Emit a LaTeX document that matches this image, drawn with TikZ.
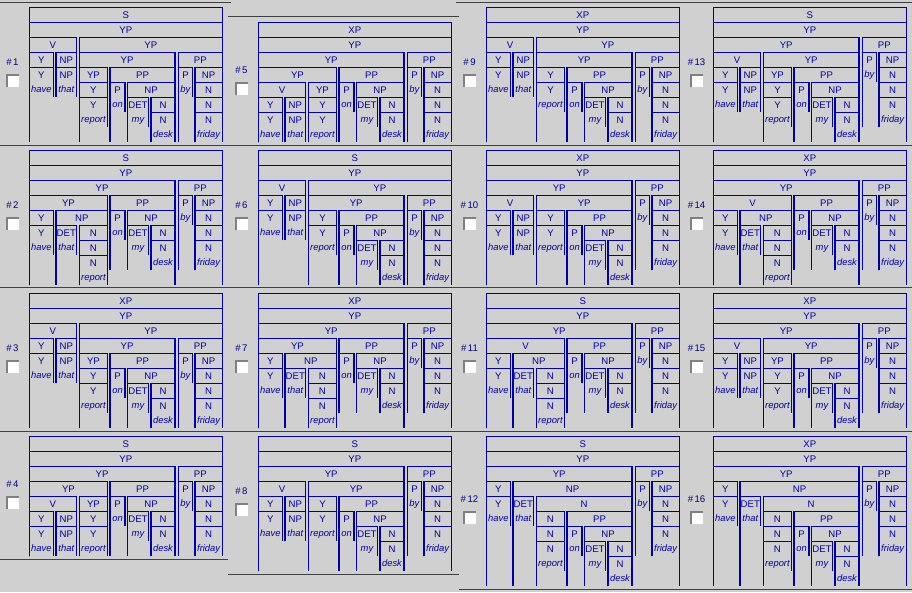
\documentclass[tikz,border=0pt]{standalone}
\usepackage{fontspec}
\setmainfont{Liberation Sans}
\definecolor{bg}{RGB}{208,208,208}
\definecolor{tb}{RGB}{0,0,165}
\definecolor{numc}{RGB}{0,0,128}
\definecolor{sep}{RGB}{64,64,64}
\definecolor{cbd}{RGB}{128,128,128}
\tikzset{
 treeline/.style={draw=tb, line width=1.1pt},
 cat/.style={text=tb, font=\fontsize{9.6}{9.6}\selectfont, inner sep=0pt, anchor=base},
 word/.style={text=tb, font=\fontsize{9.4}{9.4}\selectfont\itshape, inner sep=0pt, anchor=base},
 numlabel/.style={text=numc, font=\fontsize{9.6}{9.6}\selectfont, inner sep=0pt, anchor=base},
 seprule/.style={draw=sep, line width=1pt},
}
\newcounter{nc}
\newcommand\leafL[1]{\ifcase#1\or0\or26.7\or50\or80.7\or98\or121.7\or149\or165.7\fi}
\newcommand\leafR[1]{\ifcase#1\or24\or47.3\or78.3\or95.7\or119.3\or145.7\or163.3\or193\fi}
% box: first leaf, last leaf, row, bottom row, label
\newcommand\TB[5]{%
  \edef\tmpa{\leafL{#1}}\edef\tmpb{\leafR{#2}}%
  \pgfmathsetmacro\xa{\PX+\tmpa}\pgfmathsetmacro\xb{\PX+\tmpb}%
  \pgfmathsetmacro\ya{\PY+15*#3}\pgfmathsetmacro\yb{\PY+15*(#4+1)}%
  \pgfmathsetmacro\xm{(\xa+\xb)/2}\pgfmathsetmacro\yt{\ya+10.7}%
  \draw[treeline] (\xa,\yb) -- (\xa,\ya) -- (\xb,\ya) -- (\xb,\yb);
  \stepcounter{nc}\node[cat] (n\arabic{nc}) at (\xm,\yt) {#5};
}
% word: leaf, row, text
\newcommand\TW[3]{%
  \edef\tmpa{\leafL{#1}}\edef\tmpb{\leafR{#1}}%
  \pgfmathsetmacro\xm{\PX+(\tmpa+\tmpb)/2}\pgfmathsetmacro\yt{\PY+15*#2+10.4}%
  \stepcounter{nc}\node[word] (n\arabic{nc}) at (\xm,\yt) {#3};
}
\newcommand\panel[6]{%
  \pgfmathsetmacro\PX{#1+29.3}\edef\PY{#2}%
  \pgfmathsetmacro\pmid{#2+#3*7.5}%
  \pgfmathsetmacro\lx{#1+12.5}\pgfmathsetmacro\ly{\pmid-12.5+3.4}%
  \node[numlabel] (lab#4) at (\lx,\ly) {\#\kern1.5pt#4};
  \pgfmathsetmacro\cxa{#1+6}\pgfmathsetmacro\cya{\pmid-0.5}%
  \fill[white] (\cxa,\cya) rectangle ++(13,13);
  \draw[cbd, line width=1.8pt] (\cxa+0.9,\cya+13) -- (\cxa+0.9,\cya+0.9) -- (\cxa+13,\cya+0.9);
  \pgfmathsetmacro\rb{#3-1}%
  \TB{1}{8}{0}{\rb}{#5}%
  #6%
}
\newcommand\shA{%
 \TB{1}{8}{1}{8}{YP}
 \TB{1}{2}{2}{5}{V}\TB{3}{8}{2}{8}{YP}
 \TB{1}{1}{3}{5}{Y}\TB{2}{2}{3}{5}{NP}\TB{3}{6}{3}{8}{YP}\TB{7}{8}{3}{8}{PP}
 \TB{1}{1}{4}{5}{Y}\TB{2}{2}{4}{5}{NP}\TB{3}{3}{4}{7}{YP}\TB{4}{6}{4}{8}{PP}\TB{7}{7}{4}{5}{P}\TB{8}{8}{4}{8}{NP}
 \TW{1}{5}{have}\TW{2}{5}{that}\TB{3}{3}{5}{7}{Y}\TB{4}{4}{5}{6}{P}\TB{5}{6}{5}{8}{NP}\TW{7}{5}{by}\TB{8}{8}{5}{8}{N}
 \TB{3}{3}{6}{7}{Y}\TW{4}{6}{on}\TB{5}{5}{6}{7}{DET}\TB{6}{6}{6}{8}{N}\TB{8}{8}{6}{8}{N}
 \TW{3}{7}{report}\TW{5}{7}{my}\TB{6}{6}{7}{8}{N}\TB{8}{8}{7}{8}{N}
 \TW{6}{8}{desk}\TW{8}{8}{friday}}
\newcommand\shB{%
 \TB{1}{8}{1}{7}{YP}
 \TB{1}{6}{2}{7}{YP}\TB{7}{8}{2}{7}{PP}
 \TB{1}{3}{3}{7}{YP}\TB{4}{6}{3}{7}{PP}\TB{7}{7}{3}{4}{P}\TB{8}{8}{3}{7}{NP}
 \TB{1}{2}{4}{7}{V}\TB{3}{3}{4}{7}{YP}\TB{4}{4}{4}{5}{P}\TB{5}{6}{4}{7}{NP}\TW{7}{4}{by}\TB{8}{8}{4}{7}{N}
 \TB{1}{1}{5}{7}{Y}\TB{2}{2}{5}{7}{NP}\TB{3}{3}{5}{7}{Y}\TW{4}{5}{on}\TB{5}{5}{5}{6}{DET}\TB{6}{6}{5}{7}{N}\TB{8}{8}{5}{7}{N}
 \TB{1}{1}{6}{7}{Y}\TB{2}{2}{6}{7}{NP}\TB{3}{3}{6}{7}{Y}\TW{5}{6}{my}\TB{6}{6}{6}{7}{N}\TB{8}{8}{6}{7}{N}
 \TW{1}{7}{have}\TW{2}{7}{that}\TW{3}{7}{report}\TW{6}{7}{desk}\TW{8}{7}{friday}}
\newcommand\shC{%
 \TB{1}{8}{1}{8}{YP}
 \TB{1}{2}{2}{5}{V}\TB{3}{8}{2}{8}{YP}
 \TB{1}{1}{3}{5}{Y}\TB{2}{2}{3}{5}{NP}\TB{3}{6}{3}{8}{YP}\TB{7}{8}{3}{8}{PP}
 \TB{1}{1}{4}{5}{Y}\TB{2}{2}{4}{5}{NP}\TB{3}{3}{4}{6}{Y}\TB{4}{6}{4}{8}{PP}\TB{7}{7}{4}{5}{P}\TB{8}{8}{4}{8}{NP}
 \TW{1}{5}{have}\TW{2}{5}{that}\TB{3}{3}{5}{6}{Y}\TB{4}{4}{5}{6}{P}\TB{5}{6}{5}{8}{NP}\TW{7}{5}{by}\TB{8}{8}{5}{8}{N}
 \TW{3}{6}{report}\TW{4}{6}{on}\TB{5}{5}{6}{7}{DET}\TB{6}{6}{6}{8}{N}\TB{8}{8}{6}{8}{N}
 \TW{5}{7}{my}\TB{6}{6}{7}{8}{N}\TB{8}{8}{7}{8}{N}
 \TW{6}{8}{desk}\TW{8}{8}{friday}}
\newcommand\shD{%
 \TB{1}{8}{1}{8}{YP}
 \TB{1}{6}{2}{8}{YP}\TB{7}{8}{2}{7}{PP}
 \TB{1}{2}{3}{6}{V}\TB{3}{6}{3}{8}{YP}\TB{7}{7}{3}{4}{P}\TB{8}{8}{3}{7}{NP}
 \TB{1}{1}{4}{6}{Y}\TB{2}{2}{4}{6}{NP}\TB{3}{3}{4}{7}{YP}\TB{4}{6}{4}{8}{PP}\TW{7}{4}{by}\TB{8}{8}{4}{7}{N}
 \TB{1}{1}{5}{6}{Y}\TB{2}{2}{5}{6}{NP}\TB{3}{3}{5}{7}{Y}\TB{4}{4}{5}{6}{P}\TB{5}{6}{5}{8}{NP}\TB{8}{8}{5}{7}{N}
 \TW{1}{6}{have}\TW{2}{6}{that}\TB{3}{3}{6}{7}{Y}\TW{4}{6}{on}\TB{5}{5}{6}{7}{DET}\TB{6}{6}{6}{8}{N}\TB{8}{8}{6}{7}{N}
 \TW{3}{7}{report}\TW{5}{7}{my}\TB{6}{6}{7}{8}{N}\TW{8}{7}{friday}
 \TW{6}{8}{desk}}
\newcommand\lowerEG{%
 \TB{1}{1}{4}{6}{Y}\TB{2}{3}{4}{8}{NP}\TB{4}{4}{4}{5}{P}\TB{5}{6}{4}{7}{NP}\TW{7}{4}{by}\TB{8}{8}{4}{7}{N}
 \TB{1}{1}{5}{6}{Y}\TB{2}{2}{5}{6}{DET}\TB{3}{3}{5}{8}{N}\TW{4}{5}{on}\TB{5}{5}{5}{6}{DET}\TB{6}{6}{5}{7}{N}\TB{8}{8}{5}{7}{N}
 \TW{1}{6}{have}\TW{2}{6}{that}\TB{3}{3}{6}{8}{N}\TW{5}{6}{my}\TB{6}{6}{6}{7}{N}\TB{8}{8}{6}{7}{N}
 \TB{3}{3}{7}{8}{N}\TW{6}{7}{desk}\TW{8}{7}{friday}
 \TW{3}{8}{report}}
\newcommand\shE{%
 \TB{1}{8}{1}{8}{YP}
 \TB{1}{6}{2}{8}{YP}\TB{7}{8}{2}{7}{PP}
 \TB{1}{3}{3}{8}{YP}\TB{4}{6}{3}{7}{PP}\TB{7}{7}{3}{4}{P}\TB{8}{8}{3}{7}{NP}
 \lowerEG}
\newcommand\shG{%
 \TB{1}{8}{1}{8}{YP}
 \TB{1}{6}{2}{8}{YP}\TB{7}{8}{2}{7}{PP}
 \TB{1}{3}{3}{8}{V}\TB{4}{6}{3}{7}{PP}\TB{7}{7}{3}{4}{P}\TB{8}{8}{3}{7}{NP}
 \lowerEG}
\newcommand\shF{%
 \TB{1}{8}{1}{8}{YP}
 \TB{1}{6}{2}{8}{YP}\TB{7}{8}{2}{7}{PP}
 \TB{1}{2}{3}{6}{V}\TB{3}{6}{3}{8}{YP}\TB{7}{7}{3}{4}{P}\TB{8}{8}{3}{7}{NP}
 \TB{1}{1}{4}{6}{Y}\TB{2}{2}{4}{6}{NP}\TB{3}{3}{4}{6}{Y}\TB{4}{6}{4}{8}{PP}\TW{7}{4}{by}\TB{8}{8}{4}{7}{N}
 \TB{1}{1}{5}{6}{Y}\TB{2}{2}{5}{6}{NP}\TB{3}{3}{5}{6}{Y}\TB{4}{4}{5}{6}{P}\TB{5}{6}{5}{8}{NP}\TB{8}{8}{5}{7}{N}
 \TW{1}{6}{have}\TW{2}{6}{that}\TW{3}{6}{report}\TW{4}{6}{on}\TB{5}{5}{6}{7}{DET}\TB{6}{6}{6}{8}{N}\TB{8}{8}{6}{7}{N}
 \TW{5}{7}{my}\TB{6}{6}{7}{8}{N}\TW{8}{7}{friday}
 \TW{6}{8}{desk}}
\newcommand\shH{%
 \TB{1}{8}{1}{9}{YP}
 \TB{1}{6}{2}{9}{YP}\TB{7}{8}{2}{7}{PP}
 \TB{1}{1}{3}{5}{Y}\TB{2}{6}{3}{9}{NP}\TB{7}{7}{3}{4}{P}\TB{8}{8}{3}{7}{NP}
 \TB{1}{1}{4}{5}{Y}\TB{2}{2}{4}{5}{DET}\TB{3}{6}{4}{9}{N}\TW{7}{4}{by}\TB{8}{8}{4}{7}{N}
 \TW{1}{5}{have}\TW{2}{5}{that}\TB{3}{3}{5}{8}{N}\TB{4}{6}{5}{9}{PP}\TB{8}{8}{5}{7}{N}
 \TB{3}{3}{6}{8}{N}\TB{4}{4}{6}{7}{P}\TB{5}{6}{6}{9}{NP}\TB{8}{8}{6}{7}{N}
 \TB{3}{3}{7}{8}{N}\TW{4}{7}{on}\TB{5}{5}{7}{8}{DET}\TB{6}{6}{7}{9}{N}\TW{8}{7}{friday}
 \TW{3}{8}{report}\TW{5}{8}{my}\TB{6}{6}{8}{9}{N}
 \TW{6}{9}{desk}}
\begin{document}
\begin{tikzpicture}[x=1pt,y=-1pt]
\fill[bg] (0,0) rectangle (912,592);
\useasboundingbox (0,0) rectangle (912,592);
% separators
\draw[seprule] (0,2.2) -- (231,2.2);
\draw[seprule] (228,16.7) -- (459,16.7);
\draw[seprule] (456,2.2) -- (912,2.2);
\draw[seprule] (0,145.3) -- (912,145.3);
\draw[seprule] (0,287.3) -- (912,287.3);
\draw[seprule] (0,431.3) -- (912,431.3);
\draw[seprule] (0,559.5) -- (228,559.5);
\draw[seprule] (228,574.5) -- (459,574.5);
\draw[seprule] (459,589.7) -- (912,589.7);
% panels
\panel{0}{7.3}{9}{1}{S}{\shA}
\panel{0}{150.3}{9}{2}{S}{\shE}
\panel{0}{293.3}{9}{3}{XP}{\shA}
\panel{0}{436.3}{8}{4}{S}{\shB}
\panel{229}{22.3}{8}{5}{XP}{\shB}
\panel{229}{150.3}{9}{6}{S}{\shC}
\panel{229}{293.3}{9}{7}{XP}{\shE}
\panel{229}{436.3}{9}{8}{S}{\shF}
\panel{457}{7.3}{9}{9}{XP}{\shC}
\panel{457}{150.3}{9}{10}{XP}{\shF}
\panel{457}{293.3}{9}{11}{S}{\shG}
\panel{457}{436.3}{10}{12}{S}{\shH}
\panel{684}{7.3}{9}{13}{S}{\shD}
\panel{684}{150.3}{9}{14}{XP}{\shG}
\panel{684}{293.3}{9}{15}{XP}{\shD}
\panel{684}{436.3}{10}{16}{XP}{\shH}
\end{tikzpicture}
\end{document}
